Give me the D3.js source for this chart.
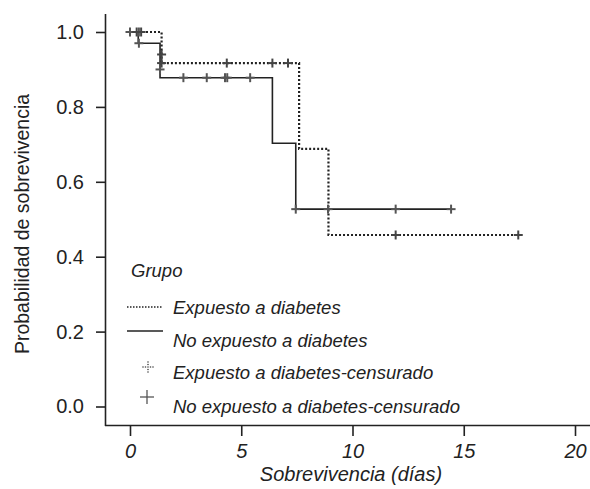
<!DOCTYPE html>
<html><head><meta charset="utf-8">
<script src="https://cdn.jsdelivr.net/npm/d3@7"></script>
<style>
body{margin:0;background:#fff;}
text{font-family:"Liberation Sans",Arial,sans-serif;fill:#222;}
</style></head>
<body><svg id="c" width="590" height="489"></svg>
<script>
// Data
const xTicks = [0, 5, 10, 15, 20];
const yTicks = [0.0, 0.2, 0.4, 0.6, 0.8, 1.0];
const expTimes = [0, 1.42, 7.6, 8.92, 17.5];
const expSurv  = [1.0, 0.917, 0.688, 0.458, 0.458];
const noTimes  = [0, 0.37, 1.35, 6.4, 7.45, 14.46];
const noSurv   = [1.0, 0.97, 0.878, 0.703, 0.527, 0.527];
const expCensT = [0.3, 0.5, 1.42, 1.42, 4.35, 6.4, 7.1, 11.94, 17.45];
const expCensS = [1.0, 1.0, 0.94, 0.917, 0.917, 0.917, 0.917, 0.458, 0.458];
const noCensT  = [0, 0.4, 0.4, 1.35, 2.4, 3.45, 4.27, 4.37, 5.4, 7.45, 8.9, 11.94, 14.43];
const noCensS  = [1.0, 1.0, 0.97, 0.9, 0.878, 0.878, 0.878, 0.878, 0.878, 0.527, 0.527, 0.527, 0.527];
const legendLabels = ["Expuesto a diabetes", "No expuesto a diabetes", "Expuesto a diabetes-censurado", "No expuesto a diabetes-censurado"];

const svg = d3.select("#c");
const x = d3.scaleLinear().domain([0, 20]).range([130, 575]);
const y = d3.scaleLinear().domain([0, 1]).range([406.5, 32]);
const ink = "#222";

// axes
svg.append("line").attr("x1",105.5).attr("x2",105.5).attr("y1",14).attr("y2",426).attr("stroke",ink).attr("stroke-width",1.6);
svg.append("line").attr("x1",105).attr("x2",590).attr("y1",425.5).attr("y2",425.5).attr("stroke",ink).attr("stroke-width",1.6);

const xa = svg.append("g").attr("transform","translate(0,426)")
  .call(d3.axisBottom(x).tickValues(xTicks).tickSize(10).tickPadding(8).tickFormat(d3.format("d")));
xa.select(".domain").remove();
xa.selectAll("line").attr("stroke",ink).attr("stroke-width",1.6);
xa.selectAll("text").attr("font-size",20).attr("font-style","italic").attr("fill",ink).attr("font-family",null);

const ya = svg.append("g").attr("transform","translate(105,0)")
  .call(d3.axisLeft(y).tickValues(yTicks).tickSize(9).tickPadding(12).tickFormat(d3.format(".1f")));
ya.select(".domain").remove();
ya.selectAll("line").attr("stroke",ink).attr("stroke-width",1.6);
ya.selectAll("text").attr("font-size",20).attr("fill",ink).attr("font-family",null);

svg.append("text").attr("x",351).attr("y",481).attr("text-anchor","middle").attr("font-size",20).attr("font-style","italic").text("Sobrevivencia (días)");
svg.append("text").attr("transform","translate(29,224) rotate(-90)").attr("text-anchor","middle").attr("font-size",19.5).text("Probabilidad de sobrevivencia");

// curves
const line = d3.line().x(d=>x(d[0])).y(d=>y(d[1])).curve(d3.curveStepAfter);
svg.append("path").attr("d", line(d3.zip(noTimes,noSurv))).attr("fill","none").attr("stroke",ink).attr("stroke-width",1.6);
svg.append("path").attr("d", line(d3.zip(expTimes,expSurv))).attr("fill","none").attr("stroke",ink).attr("stroke-width",2.2).attr("stroke-dasharray","2,2");

function plus(g, cx, cy, r, col, w){
  g.append("line").attr("x1",cx-r).attr("x2",cx+r).attr("y1",cy).attr("y2",cy).attr("stroke",col).attr("stroke-width",w);
  g.append("line").attr("x1",cx).attr("x2",cx).attr("y1",cy-r).attr("y2",cy+r).attr("stroke",col).attr("stroke-width",w);
}
const cg = svg.append("g");
d3.zip(noCensT,noCensS).forEach(d=>plus(cg, x(d[0]), y(d[1]), 4.5, "#555", 2));
d3.zip(expCensT,expCensS).forEach(d=>plus(cg, x(d[0]), y(d[1]), 4.5, "#444", 2));

// legend
const lg = svg.append("g");
lg.append("text").attr("x",131).attr("y",277).attr("font-size",18.5).attr("font-style","italic").text("Grupo");
lg.append("line").attr("x1",127).attr("x2",163).attr("y1",307).attr("y2",307).attr("stroke",ink).attr("stroke-width",1.4).attr("stroke-dasharray","1.5,1.5");
lg.append("line").attr("x1",127).attr("x2",163).attr("y1",331).attr("y2",331).attr("stroke",ink).attr("stroke-width",1.6);
// dotted cross
[-5,-2.5,2.5,5].forEach(o=>{
  lg.append("circle").attr("cx",148+o).attr("cy",367).attr("r",0.8).attr("fill","#444");
  lg.append("circle").attr("cx",148).attr("cy",367+o).attr("r",0.8).attr("fill","#444");
});
lg.append("circle").attr("cx",148).attr("cy",367).attr("r",0.8).attr("fill","#444");
plus(lg, 147, 397, 7, "#555", 1.3);
const ly = [314, 347, 379, 413];
legendLabels.forEach((t,i)=>{
  lg.append("text").attr("x",173).attr("y",ly[i]).attr("font-size",18.5).attr("font-style","italic").text(t);
});
</script></body></html>
